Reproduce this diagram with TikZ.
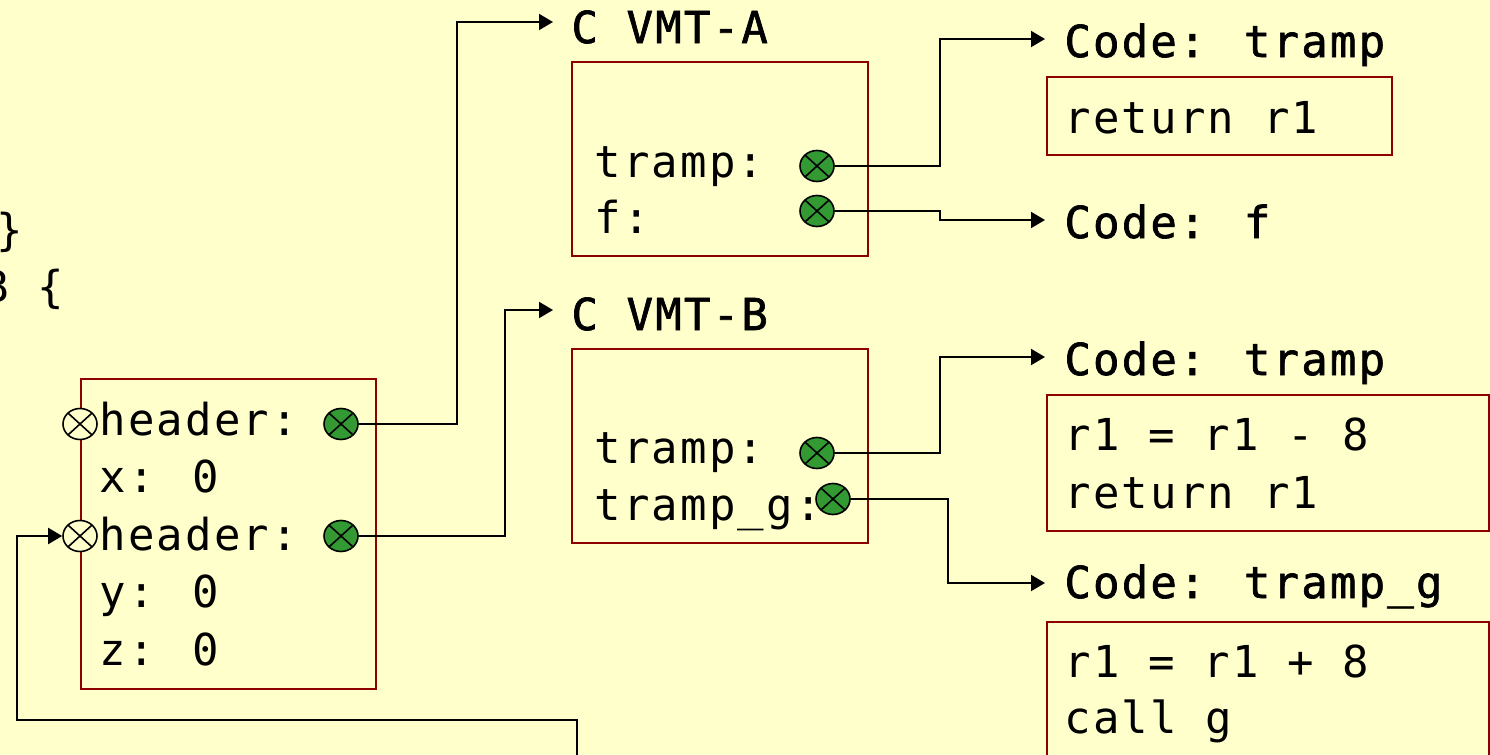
\documentclass[tikz,border=0pt]{standalone}
\usepackage{fontspec}
\usetikzlibrary{arrows.meta,shapes.geometric}
\newfontfamily\codefont[LetterSpace=5]{DejaVu Sans Mono}
\newfontfamily\labelfont[LetterSpace=5,FakeBold=1.5]{DejaVu Sans Mono}
\definecolor{bgyellow}{RGB}{255,255,204}
\definecolor{boxred}{RGB}{140,0,0}
\definecolor{ptrgreen}{RGB}{51,153,51}
\begin{document}
\begin{tikzpicture}[x=0.5pt,y=-0.5pt,
  txt/.style={anchor=base west,inner sep=0pt,font=\codefont\fontsize{22pt}{26pt}\selectfont},
  lbl/.style={anchor=base west,inner sep=0pt,font=\labelfont\fontsize{22pt}{26pt}\selectfont},
  memb/.style={draw=boxred,line width=1pt,anchor=north west,inner sep=0pt},
  ptr/.style={ellipse,draw=black,line width=0.8pt,fill=ptrgreen,minimum width=17pt,minimum height=15.5pt,inner sep=0pt,
    path picture={\draw[line width=0.8pt] (path picture bounding box.south west)--(path picture bounding box.north east)
      (path picture bounding box.north west)--(path picture bounding box.south east);}},
  hdr/.style={ptr,fill=bgyellow},
  link/.style={draw=black,line width=1pt,-{Triangle[length=7pt,width=8pt]}}]
\fill[bgyellow] (0,0) rectangle (1490,755);
\useasboundingbox (0,0) rectangle (1490,755);
\clip (0,0) rectangle (1490,755);

% left code fragments
\node[txt] (frag1) at (-4,245) {\}};
\node[txt] (frag2) at (-18,302) {B \{};

% object
\node[memb,minimum width=147.5pt,minimum height=155pt] (obj) at (80,378) {};
\node[txt] (ohdr1) at (99,435) {header:};
\node[txt] (ox) at (99,492) {x: 0};
\node[txt] (ohdr2) at (99,550) {header:};
\node[txt] (oy) at (99,607) {y: 0};
\node[txt] (oz) at (99,665) {z: 0};
\node[hdr] (h1) at (80,424) {};
\node[hdr] (h2) at (80,536) {};
\node[ptr] (p1) at (341,424) {};
\node[ptr] (p2) at (341,536) {};

% VMT-A
\node[lbl] (labA) at (571,43) {C VMT-A};
\node[memb,minimum width=148pt,minimum height=97pt] (vmtA) at (571,61) {};
\node[txt] (aTramp) at (594,177) {tramp:};
\node[txt] (aF) at (594,233) {f:};
\node[ptr] (pAt) at (817,166) {};
\node[ptr] (pAf) at (817,211) {};

% VMT-B
\node[lbl] (labB) at (571,330) {C VMT-B};
\node[memb,minimum width=148pt,minimum height=97pt] (vmtB) at (571,348) {};
\node[txt] (bTramp) at (594,463) {tramp:};
\node[txt] (bTrampG) at (594,520) {tramp\_g:};
\node[ptr] (pBt) at (817,453) {};
\node[ptr] (pBg) at (833,499) {};

% code A
\node[lbl] (cA) at (1064,57) {Code: tramp};
\node[memb,minimum width=172.5pt,minimum height=39pt] (codeA) at (1046,76) {};
\node[txt] (cA1) at (1064,133) {return r1};
\node[lbl] (cF) at (1064,238) {Code: f};

% code B
\node[lbl] (cB) at (1064,375) {Code: tramp};
\node[memb,minimum width=221pt,minimum height=68pt] (codeB) at (1046,394) {};
\node[txt] (cB1) at (1064,450) {r1 = r1 - 8};
\node[txt] (cB2) at (1064,508) {return r1};
\node[lbl] (cG) at (1064,598) {Code: tramp\_g};
\node[memb,minimum width=221pt,minimum height=95pt] (codeG) at (1046,621) {};
\node[txt] (cG1) at (1064,677) {r1 = r1 + 8};
\node[txt] (cG2) at (1064,733) {call g};

% arrow ends
\coordinate (tA) at (553,22);
\coordinate (tB) at (553,310);
\coordinate (tAt) at (1045,39);
\coordinate (tAf) at (1045,220);
\coordinate (tBt) at (1045,357);
\coordinate (tBg) at (1045,583);
\coordinate (bot) at (577,770);

\draw[link] (p1) -- (457,424) -- (457,22) -- (tA);
\draw[link] (p2) -- (505,536) -- (505,310) -- (tB);
\draw[link] (pAt) -- (940,166) -- (940,39) -- (tAt);
\draw[link] (pAf) -- (940,211) -- (940,220) -- (tAf);
\draw[link] (pBt) -- (940,453) -- (940,357) -- (tBt);
\draw[link] (pBg) -- (948,499) -- (948,583) -- (tBg);
\draw[link] (bot) -- (577,720) -- (17,720) -- (17,536) -- (h2);
\end{tikzpicture}
\end{document}
